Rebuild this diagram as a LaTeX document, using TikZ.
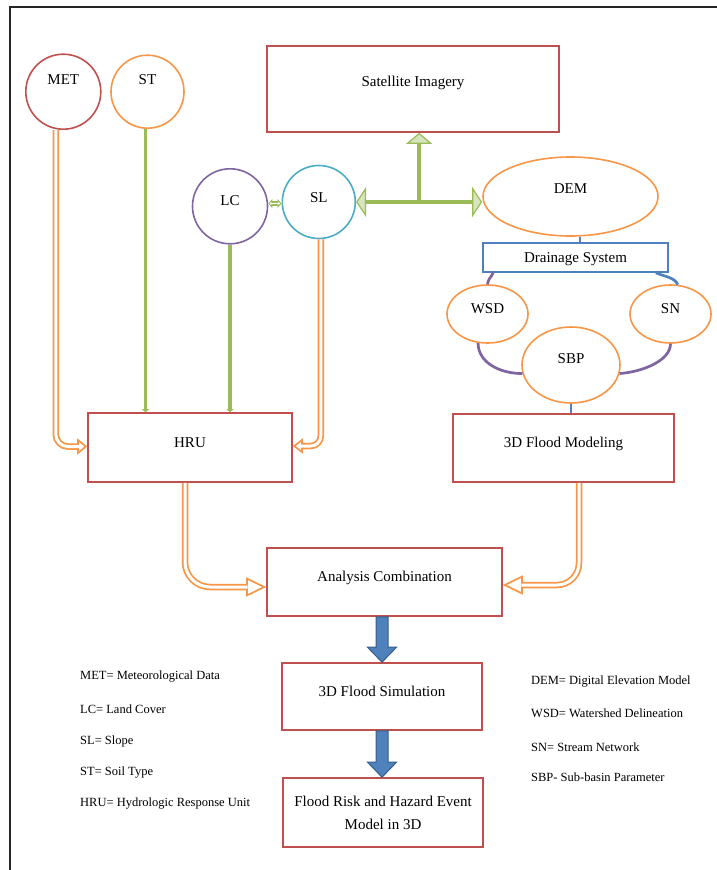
\documentclass[tikz,border=0pt]{standalone}
\usepackage{fontspec}
\setmainfont{Liberation Serif}
\usetikzlibrary{arrows.meta,shapes.geometric,calc}
\definecolor{redC}{HTML}{C0504D}
\definecolor{orC}{HTML}{F79646}
\definecolor{grC}{HTML}{9BBB59}
\definecolor{lgrC}{HTML}{D7E4BD}
\definecolor{puC}{HTML}{8064A2}
\definecolor{cyC}{HTML}{4BACC6}
\definecolor{blC}{HTML}{4F81BD}
\definecolor{dblC}{HTML}{385D8A}
\newcommand\lift[2]{\raisebox{#1pt}[0pt][0pt]{#2}}
\newcommand\harrow[6]{%
 \draw[draw=#1, line width=6.5pt, #2, -{Triangle[length=#3pt, width=#4pt, fill=white, line width=1.7pt]}] #6;
 \draw[draw=white, line width=3pt, #2, shorten >=#5pt] #6;}
\begin{document}
\begin{tikzpicture}[x=1pt,y=-1pt,
 lbl/.style={font=\fontsize{15}{23}\selectfont, inner sep=0pt, text=black},
 rbox/.style={lbl, rectangle, draw=redC, line width=1.6pt},
 ring/.style={lbl, circle, draw=#1, line width=1.6pt},
 oval/.style={lbl, ellipse, draw=#1, line width=1.6pt},
 legend/.style={font=\fontsize{12.5}{14}\selectfont, inner sep=0pt, anchor=west},
 gline/.style={draw=grC, line width=3.8pt},
 bline/.style={draw=blC, line width=2pt},
 curve/.style={draw=#1, line width=2.7pt},
 block/.style={draw=dblC, fill=blC, line width=1pt, line join=miter}]
\useasboundingbox (0,0) rectangle (717,870);
\draw[line width=2pt, black!85] (10,870) -- (10,7) -- (717,7);

% nodes
\node[ring=redC, minimum size=75pt] (met) at (63.3,91.7) {\lift{7}{MET}};
\node[ring=orC, minimum size=73pt] (st) at (147.5,91.7) {\lift{7}{ST}};
\node[ring=puC, minimum size=75pt] (lc) at (230,206.3) {\lift{1}{LC}};
\node[ring=cyC, minimum size=73pt] (sl) at (318.8,202) {\lift{0}{SL}};
\node[rbox, minimum width=292pt, minimum height=86pt] (sat) at (413,89) {\lift{3}{Satellite Imagery}};
\node[oval=orC, minimum width=175pt, minimum height=79pt] (dem) at (570.5,196.5) {\lift{3}{DEM}};
\node[lbl, draw=blC, line width=1.6pt, minimum width=185pt, minimum height=29pt] (ds) at (575.5,257.5) {\lift{-5}{Drainage System}};
\node[oval=orC, minimum width=81pt, minimum height=58pt] (wsd) at (487.5,314) {\lift{1}{WSD}};
\node[oval=orC, minimum width=81pt, minimum height=58pt] (sn) at (670.5,314) {\lift{1}{SN}};
\node[oval=orC, minimum width=98pt, minimum height=76pt] (sbp) at (571,365) {\lift{2}{SBP}};
\node[rbox, minimum width=204pt, minimum height=69pt] (hru) at (190,447.5) {\lift{0}{HRU}};
\node[rbox, minimum width=221pt, minimum height=68pt] (fm) at (563.5,448) {\lift{1}{3D Flood Modeling}};
\node[rbox, minimum width=235pt, minimum height=68pt] (ac) at (384.5,582) {\lift{1}{Analysis Combination}};
\node[rbox, minimum width=200pt, minimum height=67pt] (sim) at (382,696.5) {\lift{0}{3D Flood Simulation}};
\node[rbox, minimum width=200pt, minimum height=69pt, align=center] (fr) at (383,812.5) {Flood Risk and Hazard Event\\Model in 3D};

% legend
\node[legend] (l1) at (80,677) {MET= Meteorological Data};
\node[legend] (l2) at (80,709) {LC= Land Cover};
\node[legend] (l3) at (80,741) {SL= Slope};
\node[legend] (l4) at (80,773) {ST= Soil Type};
\node[legend] (l5) at (80,804) {HRU= Hydrologic Response Unit};
\node[legend] (r1) at (531,682) {DEM= Digital Elevation Model};
\node[legend] (r2) at (531,713) {WSD= Watershed Delineation};
\node[legend] (r3) at (531,747) {SN= Stream Network};
\node[legend] (r4) at (531,777) {SBP- Sub-basin Parameter};

% green connectors
\draw[gline, -{Triangle[length=3pt,width=7pt]}] ($(st.south)+(-2,0)$) -- ($(st.south |- hru.north)+(-2,0)$);
\draw[gline, -{Triangle[length=3pt,width=7pt]}] (lc.south) -- (lc.south |- hru.north);
\coordinate (jn) at ($(sl.east)!0.5!(sl.east -| dem.west)$);
\draw[draw=grC, line width=4pt, {Triangle[length=10pt,width=30pt,fill=lgrC,line width=1.2pt]}-{Triangle[length=10pt,width=30pt,fill=lgrC,line width=1.2pt]}] (sl.east) -- (sl.east -| dem.west);
\draw[draw=grC, line width=4pt, -{Triangle[length=11pt,width=26pt,fill=lgrC,line width=1.2pt]}] (jn) -- (jn |- sat.south);
\coordinate (lcA) at ($(lc.east)+(0,-2.8)$);
\coordinate (slA) at ($(sl.west)+(0,1.5)$);
\draw[draw=grC, line width=4.5pt, {Triangle[length=4pt,width=9pt,fill=white,line width=0.9pt]}-{Triangle[length=4pt,width=9pt,fill=white,line width=0.9pt]}] (lcA) -- (slA);
\draw[draw=white, line width=1.8pt, shorten >=3pt, shorten <=3pt] (lcA) -- (slA);

% orange hollow connectors
\harrow{orC}{rounded corners=12pt}{10}{16}{8}{($(met.south)+(-7.5,0)$) |- ($(hru.west)+(0,-1)$)}
\harrow{orC}{rounded corners=10pt}{10}{15}{8}{($(sl.south)+(2,0)$) |- ($(hru.east)+(0,-1.5)$)}
\harrow{orC}{rounded corners=25pt}{20}{19}{18.5}{($(hru.south)+(-5,0)$) |- ($(ac.west)+(0,5)$)}
\harrow{orC}{rounded corners=22pt}{20}{19}{18.5}{($(fm.south)+(15.5,0)$) |- ($(ac.east)+(0,3)$)}

% blue / purple connectors in the drainage part
\draw[bline] ($(dem.south)+(9,0)$) -- ($(dem.south |- ds.north)+(9,0)$);
\draw[bline] (sbp.south) -- (sbp.south |- fm.north);
\draw[curve=puC] ($(ds.south west)+(11,0)$) .. controls +(-3,6) and +(1,-6) .. (wsd.north);
\draw[curve=blC] ($(ds.south east)+(-13,0)$) .. controls +(10,4) and +(-3,-7) .. (sn.76);
\draw[curve=puC] (wsd.252) .. controls +(0,20) and +(-22,0) .. (sbp.190);
\draw[curve=puC] (sn.south) .. controls +(0,16) and +(25,-2) .. (sbp.350);

% blue block arrows
\coordinate (b1) at (ac.south -| sim.north);
\coordinate (b2) at (sim.north);
\filldraw[block] ($(b1)+(-6,0)$) -- ($(b2)+(-6,-15)$) -- ($(b2)+(-14.5,-15)$) -- (b2) -- ($(b2)+(14.5,-15)$) -- ($(b2)+(6,-15)$) -- ($(b1)+(6,0)$) -- cycle;
\coordinate (b3) at (sim.south);
\coordinate (b4) at (sim.south |- fr.north);
\filldraw[block] ($(b3)+(-6,0)$) -- ($(b4)+(-6,-15)$) -- ($(b4)+(-14.5,-15)$) -- (b4) -- ($(b4)+(14.5,-15)$) -- ($(b4)+(6,-15)$) -- ($(b3)+(6,0)$) -- cycle;
\end{tikzpicture}
\end{document}
